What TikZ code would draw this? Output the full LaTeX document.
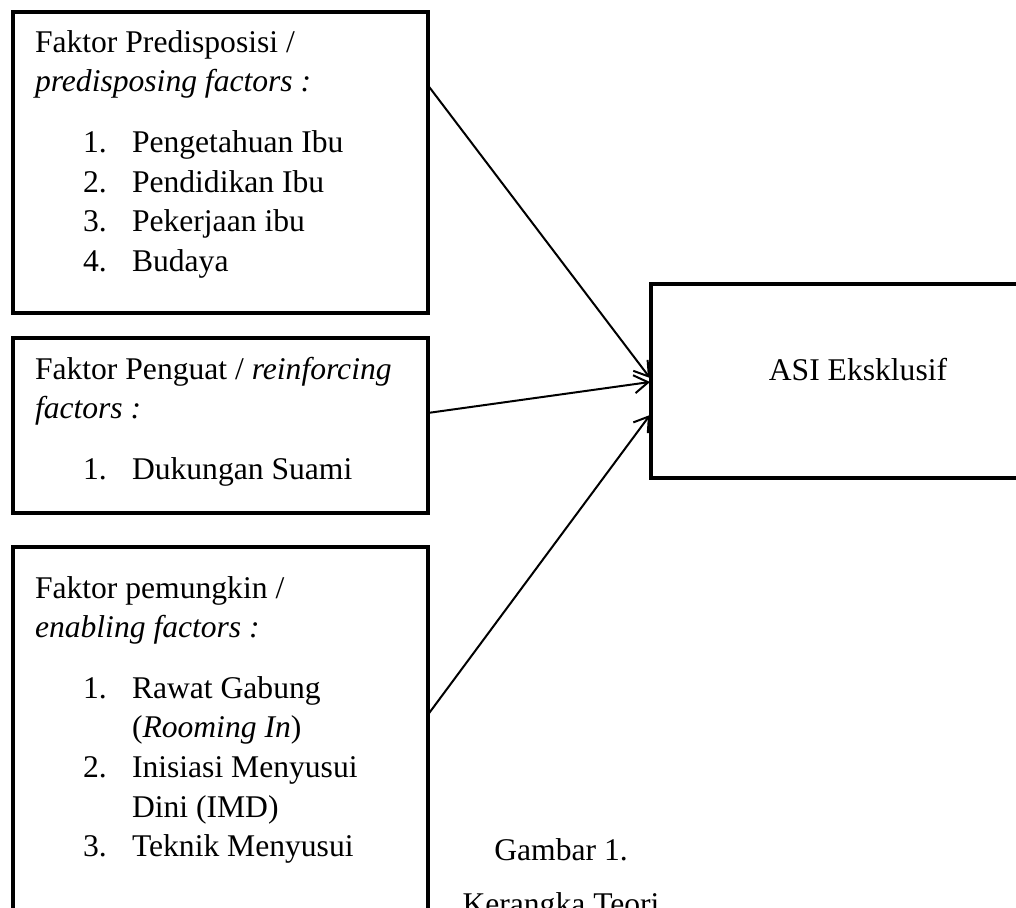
\documentclass[tikz,border=0pt]{standalone}
\usepackage{fontspec}
\setmainfont{Liberation Serif}
\usetikzlibrary{arrows.meta,fit,calc}
\tikzset{
  box/.style={draw=black, line width=2pt, inner sep=0pt, outer sep=0pt, rectangle},
  txt/.style={anchor=base west, inner sep=0pt, outer sep=0pt, font=\fontsize{15.8}{19.75}\selectfont},
  ctxt/.style={anchor=base, inner sep=0pt, outer sep=0pt, font=\fontsize{15.8}{19.75}\selectfont},
  conn/.style={line width=1pt, -{Straight Barb[length=7pt,width=9pt,line width=1pt]}},
}
\begin{document}
\begin{tikzpicture}[x=0.5pt,y=-0.5pt]
\useasboundingbox (0,0) rectangle (1016,908);
\clip (0,0) rectangle (1016,908);
% boxes
\node[box, fit={(12.5,12.5) (427.7,313)}] (b1) {};
\node[box, fit={(12.5,338) (427.7,513)}] (b2) {};
\node[box, fit={(12.5,547) (427.7,940)}] (b3) {};
\node[box, fit={(651,284) (1040,478)}] (asi) {};
% box 1 text
\node[txt] (t1a) at (35,53) {Faktor Predisposisi /};
\node[txt] (t1b) at (35,92) {\textit{predisposing factors :}};
\node[txt] (n11) at (83,153) {1.};
\node[txt] (i11) at (132,153) {Pengetahuan Ibu};
\node[txt] (n12) at (83,193) {2.};
\node[txt] (i12) at (132,193) {Pendidikan Ibu};
\node[txt] (n13) at (83,232) {3.};
\node[txt] (i13) at (132,232) {Pekerjaan ibu};
\node[txt] (n14) at (83,272) {4.};
\node[txt] (i14) at (132,272) {Budaya};
% box 2 text
\node[txt] (t2a) at (35,380) {Faktor Penguat / \textit{reinforcing}};
\node[txt] (t2b) at (35,419) {\textit{factors :}};
\node[txt] (n21) at (83,480) {1.};
\node[txt] (i21) at (132,480) {Dukungan Suami};
% box 3 text
\node[txt] (t3a) at (35,598) {Faktor pemungkin /};
\node[txt] (t3b) at (35,637) {\textit{enabling factors :}};
\node[txt] (n31) at (83,698) {1.};
\node[txt] (i31) at (132,698) {Rawat Gabung};
\node[txt] (i31b) at (132,737) {(\textit{Rooming In})};
\node[txt] (n32) at (83,777) {2.};
\node[txt] (i32) at (132,777) {Inisiasi Menyusui};
\node[txt] (i32b) at (132,817) {Dini (IMD)};
\node[txt] (n33) at (83,856) {3.};
\node[txt] (i33) at (132,856) {Teknik Menyusui};
% target text
\node[ctxt] (asit) at (858,381) {ASI Eksklusif};
% caption
\node[ctxt] (cap1) at (561,860) {Gambar 1.};
\node[ctxt] (cap2) at (561,914) {Kerangka Teori};
% connectors
\draw[conn] ($(b1.north east)+(0,72.5)$) -- ($(asi.north west)+(-1,94)$);
\draw[conn] ($(b2.north east)+(0,75)$) -- ($(asi.north west)+(-1,98)$);
\draw[conn] ($(b3.north east)+(0,168)$) -- ($(asi.north west)+(-1,131)$);
\end{tikzpicture}
\end{document}
